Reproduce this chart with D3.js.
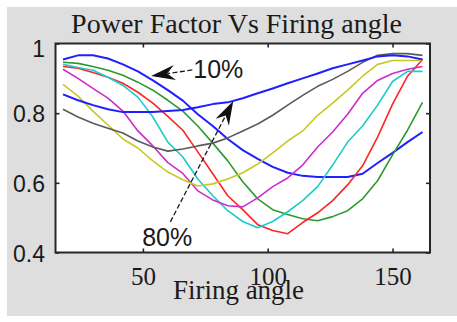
<!DOCTYPE html>
<html>
<head>
<meta charset="utf-8">
<script src="https://cdn.jsdelivr.net/npm/d3@7"></script>
<style>
  html, body { margin: 0; padding: 0; background: #ffffff; }
  svg { display: block; }
</style>
</head>
<body>
<svg id="chart" width="457" height="322"></svg>
<script>
// Firing angle (degrees) at which each power factor was computed
const angles = [18, 24, 30, 36, 42, 48, 54, 60, 66, 72, 78, 84, 90, 96, 102, 108, 114, 120, 126, 132, 138, 144, 150, 156, 162];

// Power factor for each load level
const pf10 = [0.954, 0.966, 0.966, 0.957, 0.940, 0.920, 0.894, 0.866, 0.836, 0.797, 0.763, 0.726, 0.694, 0.669, 0.646, 0.629, 0.620, 0.617, 0.617, 0.617, 0.626, 0.657, 0.686, 0.717, 0.746];
const pf20 = [0.946, 0.943, 0.934, 0.923, 0.909, 0.889, 0.866, 0.837, 0.806, 0.763, 0.714, 0.663, 0.603, 0.554, 0.523, 0.509, 0.497, 0.491, 0.503, 0.520, 0.554, 0.606, 0.680, 0.751, 0.831];
const pf30 = [0.934, 0.929, 0.917, 0.903, 0.886, 0.860, 0.829, 0.791, 0.751, 0.689, 0.626, 0.563, 0.523, 0.480, 0.463, 0.454, 0.486, 0.514, 0.549, 0.594, 0.649, 0.731, 0.826, 0.906, 0.954];
const pf40 = [0.940, 0.931, 0.923, 0.903, 0.880, 0.846, 0.789, 0.717, 0.674, 0.611, 0.563, 0.520, 0.489, 0.471, 0.489, 0.517, 0.549, 0.589, 0.651, 0.717, 0.763, 0.823, 0.891, 0.920, 0.920];
const pf50 = [0.926, 0.900, 0.871, 0.843, 0.806, 0.749, 0.706, 0.658, 0.627, 0.577, 0.551, 0.534, 0.531, 0.557, 0.589, 0.614, 0.651, 0.703, 0.746, 0.797, 0.857, 0.894, 0.914, 0.926, 0.934];
const pf60 = [0.883, 0.849, 0.806, 0.766, 0.726, 0.700, 0.663, 0.631, 0.609, 0.591, 0.597, 0.611, 0.629, 0.654, 0.686, 0.720, 0.749, 0.794, 0.829, 0.866, 0.906, 0.940, 0.951, 0.951, 0.951];
const pf70 = [0.811, 0.789, 0.771, 0.757, 0.743, 0.720, 0.703, 0.691, 0.697, 0.706, 0.714, 0.729, 0.749, 0.769, 0.794, 0.823, 0.851, 0.877, 0.897, 0.920, 0.946, 0.966, 0.971, 0.971, 0.966];
const pf80 = [0.854, 0.837, 0.823, 0.811, 0.803, 0.803, 0.803, 0.806, 0.809, 0.817, 0.826, 0.831, 0.843, 0.857, 0.871, 0.886, 0.900, 0.914, 0.929, 0.940, 0.951, 0.963, 0.966, 0.963, 0.954];

const loadLabels = ["10%", "20%", "30%", "40%", "50%", "60%", "70%", "80%"];
const seriesValues = [pf10, pf20, pf30, pf40, pf50, pf60, pf70, pf80];
const seriesColors = ["#1f1fff", "#2e9a2e", "#ff2424", "#1ecaca", "#cc2ecc", "#c8c824", "#5a5a5a", "#1f1fff"];

const xTicks = [50, 100, 150];
const yTicks = [0.4, 0.6, 0.8, 1];
const yTickLabels = ["0.4", "0.6", "0.8", "1"];

// Annotated curves: arrow tip, arrow tail and label anchor, in data units
const callouts = [
  { label: "10%", tip: [53.3, 0.907], tail: [69.8, 0.924], text: [70.2, 0.902] },
  { label: "80%", tip: [86.2, 0.835], tail: [61.0, 0.488], text: [49.7, 0.419] }
];

const svg = d3.select("#chart");
const W = 457, H = 322;
const box = { left: 55.5, top: 43.5, right: 430, bottom: 252.5 };

// figure background
svg.append("rect").attr("x", 0).attr("y", 0).attr("width", W).attr("height", H).attr("fill", "#ffffff");
svg.append("rect").attr("x", 7).attr("y", 7).attr("width", W - 7).attr("height", 309).attr("fill", "#dedede");

const x = d3.scaleLinear().domain([15, 165]).range([box.left, box.right]);
const y = d3.scaleLinear().domain([0.4, 1]).range([box.bottom, box.top]);

// axes background
svg.append("rect")
  .attr("x", box.left).attr("y", box.top)
  .attr("width", box.right - box.left).attr("height", box.bottom - box.top)
  .attr("fill", "#ffffff");

svg.append("clipPath").attr("id", "plotClip")
  .append("rect")
  .attr("x", box.left).attr("y", box.top)
  .attr("width", box.right - box.left).attr("height", box.bottom - box.top);

const line = d3.line()
  .x((d, i) => x(angles[i]))
  .y(d => y(d));

const curves = svg.append("g").attr("clip-path", "url(#plotClip)");
seriesValues.forEach((vals, k) => {
  curves.append("path")
    .datum(vals)
    .attr("d", line)
    .attr("fill", "none")
    .attr("stroke", seriesColors[k])
    .attr("stroke-width", (k === 0 || k === 7) ? 2 : 1.6)
    .attr("stroke-linejoin", "round")
    .attr("data-load", loadLabels[k]);
});

// frame
svg.append("rect")
  .attr("x", box.left).attr("y", box.top)
  .attr("width", box.right - box.left).attr("height", box.bottom - box.top)
  .attr("fill", "none").attr("stroke", "#262626").attr("stroke-width", 2);

// inward ticks on all four sides
const tickLen = 4;
const axB = svg.append("g").attr("transform", `translate(0,${box.bottom})`)
  .call(d3.axisBottom(x).tickValues(xTicks).tickSize(-tickLen).tickPadding(14.5).tickFormat(d3.format("d")));
const axT = svg.append("g").attr("transform", `translate(0,${box.top})`)
  .call(d3.axisTop(x).tickValues(xTicks).tickSize(-tickLen).tickFormat(""));
const axL = svg.append("g").attr("transform", `translate(${box.left},0)`)
  .call(d3.axisLeft(y).tickValues(yTicks).tickSize(-tickLen).tickPadding(10.5)
    .tickFormat((d, i) => yTickLabels[i]));
const axR = svg.append("g").attr("transform", `translate(${box.right},0)`)
  .call(d3.axisRight(y).tickValues(yTicks).tickSize(-tickLen).tickFormat(""));

[axB, axT, axL, axR].forEach(g => {
  g.select(".domain").remove();
  g.selectAll(".tick line").attr("stroke", "#262626").attr("stroke-width", 1.6);
});

axB.selectAll(".tick text")
  .attr("fill", "#1a1a1a")
  .style("font-family", "'Liberation Serif', 'Times New Roman', serif")
  .style("font-size", "25px");

axL.selectAll(".tick text")
  .attr("fill", "#1a1a1a")
  .style("font-family", "'Liberation Sans', Arial, sans-serif")
  .style("font-size", "23px")
  .attr("dy", d => d === 1 ? "0.55em" : "0.38em");

// title and axis label
svg.append("text")
  .attr("x", 236.5).attr("y", 33)
  .attr("text-anchor", "middle")
  .attr("fill", "#1a1a1a")
  .style("font-family", "'Liberation Serif', 'Times New Roman', serif")
  .style("font-size", "28px")
  .text("Power Factor Vs Firing angle");

svg.append("text")
  .attr("x", 238.5).attr("y", 299)
  .attr("text-anchor", "middle")
  .attr("fill", "#1a1a1a")
  .style("font-family", "'Liberation Serif', 'Times New Roman', serif")
  .style("font-size", "27px")
  .text("Firing angle");

// arrow callouts
const notes = svg.append("g");
callouts.forEach(c => {
  const tx = x(c.tip[0]), ty = y(c.tip[1]);
  const sx = x(c.tail[0]), sy = y(c.tail[1]);
  const len = Math.hypot(tx - sx, ty - sy);
  const ux = (tx - sx) / len, uy = (ty - sy) / len;
  const nx = -uy, ny = ux;
  const L = 24, Wd = 7.5;
  notes.append("line")
    .attr("x1", sx).attr("y1", sy)
    .attr("x2", tx - ux * L * 0.7).attr("y2", ty - uy * L * 0.7)
    .attr("stroke", "#1a1a1a").attr("stroke-width", 1.3)
    .attr("stroke-dasharray", "5,2.5");
  const head = [
    [tx, ty],
    [tx - ux * L + nx * Wd, ty - uy * L + ny * Wd],
    [tx - ux * L * 0.68, ty - uy * L * 0.68],
    [tx - ux * L - nx * Wd, ty - uy * L - ny * Wd]
  ];
  notes.append("path")
    .attr("d", "M" + head.map(p => p.join(",")).join("L") + "Z")
    .attr("fill", "#111111");
  notes.append("text")
    .attr("x", x(c.text[0])).attr("y", y(c.text[1]))
    .attr("fill", "#1a1a1a")
    .style("font-family", "'Liberation Sans', Arial, sans-serif")
    .style("font-size", "25px")
    .text(c.label);
});
</script>
</body>
</html>
